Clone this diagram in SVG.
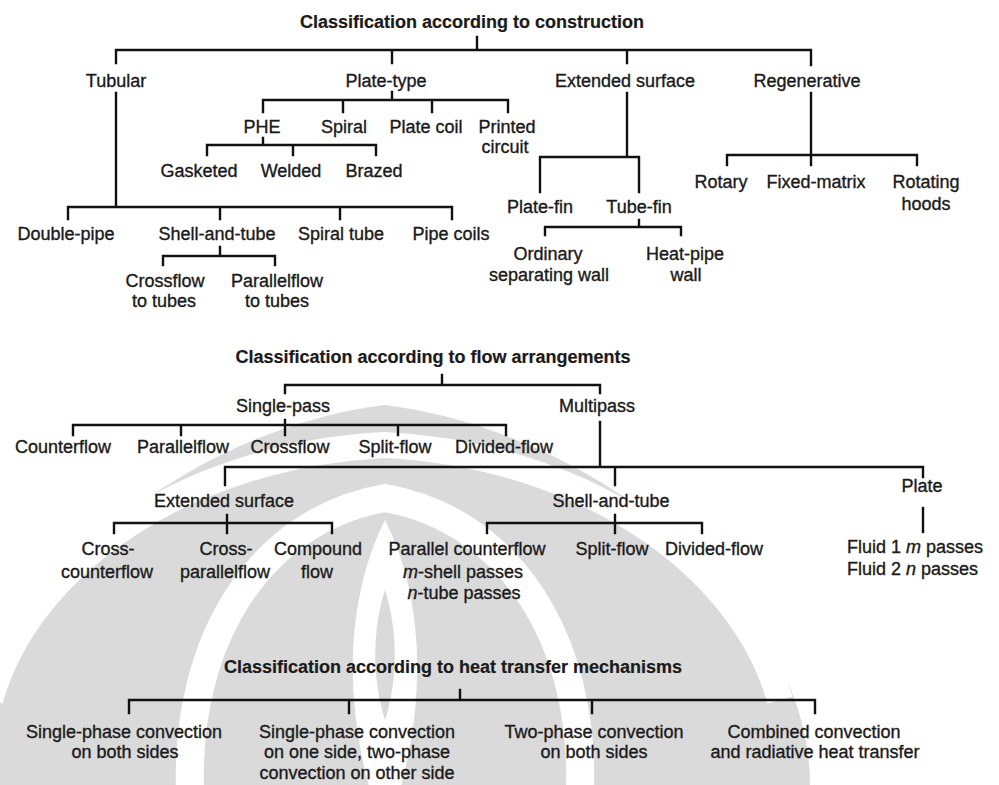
<svg xmlns="http://www.w3.org/2000/svg" width="999" height="785" viewBox="0 0 999 785">
<style>
.t{font-family:"Liberation Sans",Arial,Helvetica,sans-serif;font-size:18px;fill:#1a1a1a;stroke:#1a1a1a;stroke-width:0.35;text-anchor:middle}
.b{font-weight:bold;stroke-width:0.2}
.s{text-anchor:start}
.c{fill:none;stroke:#111;stroke-width:2.4;stroke-linecap:square}
.wm{fill:#dadada}
.wh{fill:none;stroke:#fff}
</style>
<rect width="999" height="785" fill="#fff"/>
<g id="watermark">
<path class="wm" d="M-30,785 C-30,600 180,430 385,405 C590,430 810,600 810,785 Z"/>
<path class="wh" stroke-width="26" d="M-10,700 C30,560 190,455 385,445 C580,455 740,560 780,700"/>
<path class="wh" stroke-width="28" d="M190,790 C185,640 260,520 385,498 C510,520 585,640 580,790"/>
<path fill="#fff" d="M385,520 C425,600 425,700 400,790 L370,790 C345,700 345,600 385,520 Z"/>
<path class="wm" d="M385,590 C398,630 398,680 385,720 C372,680 372,630 385,590 Z"/>
</g>
<g id="connectors">
<path class="c" d="M477,37V50M116,63V50H811V65M392,50V63M627,50V63"/>
<path class="c" d="M116,93V207M68,219V207H452V219M220,207V219M340,207V219"/>
<path class="c" d="M220,247V256M163,265V256H275V265"/>
<path class="c" d="M392,92V100M263,112V100H508V112M343,100V112M432,100V112"/>
<path class="c" d="M263,138V145M207,155V145H376V155M293,145V155"/>
<path class="c" d="M627,93V157M540,192V157H639V192"/>
<path class="c" d="M639,220V227M545,235V227H681V235"/>
<path class="c" d="M811,93V165M727,165V155H917V165"/>
<path class="c" d="M442,375V385M285,393V385H600V393"/>
<path class="c" d="M73,435V425H506V435M181,425V435M285,420V435M398,425V435"/>
<path class="c" d="M600,422V467M225,485V467H923V477M615,467V485"/>
<path class="c" d="M227,515V533M114,533V523H332V533"/>
<path class="c" d="M615,515V533M487,533V523H702V533"/>
<path class="c" d="M923,508V532"/>
<path class="c" d="M460,690V700M129,713V700H815V713M349,700V713M592,700V713"/>
</g>
<g id="title1"><text class="t b" x="472" y="28">Classification according to construction</text></g>
<g id="tubular"><text class="t" x="116" y="87">Tubular</text></g>
<g id="plate-type"><text class="t" x="386" y="87">Plate-type</text></g>
<g id="extended-surface-1"><text class="t" x="625" y="87">Extended surface</text></g>
<g id="regenerative"><text class="t" x="807" y="87">Regenerative</text></g>
<g id="phe"><text class="t" x="262" y="133">PHE</text></g>
<g id="spiral"><text class="t" x="344" y="133">Spiral</text></g>
<g id="plate-coil"><text class="t" x="426" y="133">Plate coil</text></g>
<g id="printed-circuit"><text class="t" x="507" y="133">Printed</text><text class="t" x="505" y="153">circuit</text></g>
<g id="gasketed"><text class="t" x="199" y="177">Gasketed</text></g>
<g id="welded"><text class="t" x="291" y="177">Welded</text></g>
<g id="brazed"><text class="t" x="374" y="177">Brazed</text></g>
<g id="double-pipe"><text class="t" x="66" y="240">Double-pipe</text></g>
<g id="shell-and-tube-1"><text class="t" x="217" y="240">Shell-and-tube</text></g>
<g id="spiral-tube"><text class="t" x="341" y="240">Spiral tube</text></g>
<g id="pipe-coils"><text class="t" x="451" y="240">Pipe coils</text></g>
<g id="crossflow-tubes"><text class="t" x="165" y="287">Crossflow</text><text class="t" x="164" y="307">to tubes</text></g>
<g id="parallelflow-tubes"><text class="t" x="277" y="287">Parallelflow</text><text class="t" x="277" y="307">to tubes</text></g>
<g id="plate-fin"><text class="t" x="540" y="213">Plate-fin</text></g>
<g id="tube-fin"><text class="t" x="639" y="213">Tube-fin</text></g>
<g id="ordinary-wall"><text class="t" x="548" y="260">Ordinary</text><text class="t" x="549" y="281">separating wall</text></g>
<g id="heat-pipe-wall"><text class="t" x="685" y="260">Heat-pipe</text><text class="t" x="686" y="281">wall</text></g>
<g id="rotary"><text class="t" x="721" y="188">Rotary</text></g>
<g id="fixed-matrix"><text class="t" x="816" y="188">Fixed-matrix</text></g>
<g id="rotating-hoods"><text class="t" x="926" y="188">Rotating</text><text class="t" x="926" y="210">hoods</text></g>
<g id="title2"><text class="t b" x="433" y="363">Classification according to flow arrangements</text></g>
<g id="single-pass"><text class="t" x="283" y="412">Single-pass</text></g>
<g id="multipass"><text class="t" x="597" y="412">Multipass</text></g>
<g id="counterflow"><text class="t" x="63" y="453">Counterflow</text></g>
<g id="parallelflow"><text class="t" x="183" y="453">Parallelflow</text></g>
<g id="crossflow"><text class="t" x="290" y="453">Crossflow</text></g>
<g id="split-flow-1"><text class="t" x="395" y="453">Split-flow</text></g>
<g id="divided-flow-1"><text class="t" x="504" y="453">Divided-flow</text></g>
<g id="extended-surface-2"><text class="t" x="224" y="507">Extended surface</text></g>
<g id="shell-and-tube-2"><text class="t" x="611" y="507">Shell-and-tube</text></g>
<g id="plate"><text class="t" x="922" y="492">Plate</text></g>
<g id="cross-counterflow"><text class="t" x="108" y="555">Cross-</text><text class="t" x="107" y="578">counterflow</text></g>
<g id="cross-parallelflow"><text class="t" x="226" y="555">Cross-</text><text class="t" x="225" y="578">parallelflow</text></g>
<g id="compound-flow"><text class="t" x="318" y="555">Compound</text><text class="t" x="317" y="578">flow</text></g>
<g id="parallel-counterflow"><text class="t" x="467" y="555">Parallel counterflow</text><text class="t" x="463" y="578"><tspan font-style="italic">m</tspan>-shell passes</text><text class="t" x="464" y="599"><tspan font-style="italic">n</tspan>-tube passes</text></g>
<g id="split-flow-2"><text class="t" x="612" y="555">Split-flow</text></g>
<g id="divided-flow-2"><text class="t" x="714" y="555">Divided-flow</text></g>
<g id="plate-passes"><text class="t s" x="847" y="553">Fluid 1 <tspan font-style="italic">m</tspan> passes</text><text class="t s" x="847" y="575">Fluid 2 <tspan font-style="italic">n</tspan> passes</text></g>
<g id="title3"><text class="t b" x="453" y="673">Classification according to heat transfer mechanisms</text></g>
<g id="single-phase-both"><text class="t" x="124" y="738">Single-phase convection</text><text class="t" x="125" y="758">on both sides</text></g>
<g id="single-two-phase"><text class="t" x="357" y="738">Single-phase convection</text><text class="t" x="357" y="758">on one side, two-phase</text><text class="t" x="357" y="779">convection on other side</text></g>
<g id="two-phase-both"><text class="t" x="594" y="738">Two-phase convection</text><text class="t" x="594" y="758">on both sides</text></g>
<g id="combined"><text class="t" x="814" y="738">Combined convection</text><text class="t" x="815" y="758">and radiative heat transfer</text></g>
</svg>
